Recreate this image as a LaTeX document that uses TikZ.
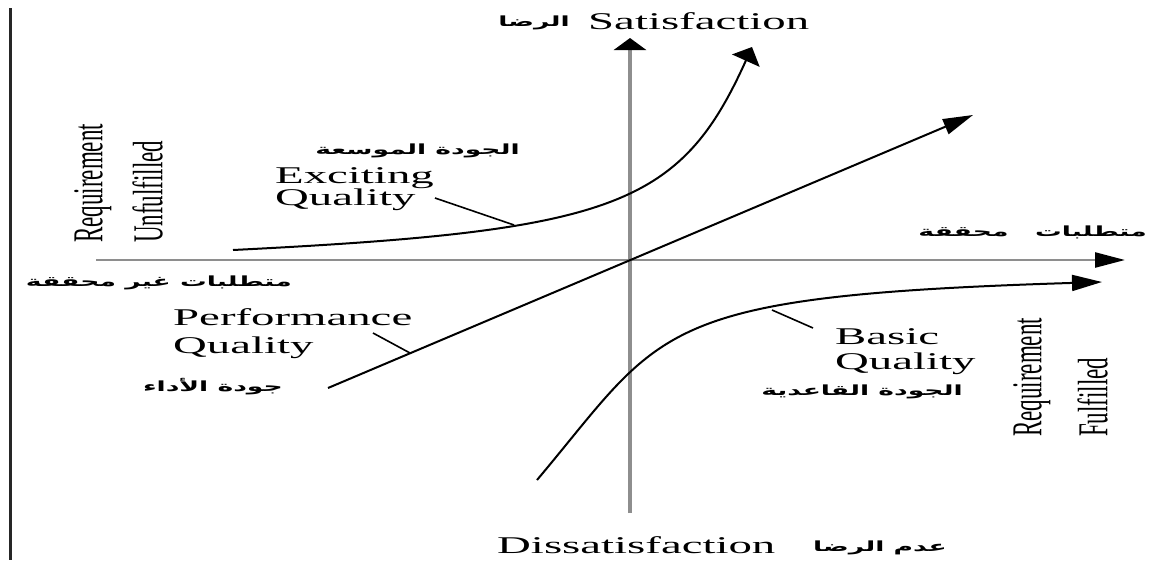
\documentclass[tikz,border=0pt]{standalone}
\usepackage{fontspec}
\usepackage{graphicx}
\setmainfont{Liberation Serif}
\newfontfamily\arfont[Script=Arabic]{DejaVu Sans}
\TeXXeTstate=1
\usetikzlibrary{arrows.meta}
\newcommand\widex[1]{\scalebox{1.95}[1]{#1}}
\newcommand\widerot[1]{\scalebox{1.85}[1]{\rotatebox{90}{#1}}}
\newcommand\widear[1]{\scalebox{1.9}[1]{\beginR #1\endR}}
\definecolor{axisgray}{HTML}{8E8E8E}
\tikzset{
  lbl/.style={inner sep=0pt, align=left},
  artext/.style={inner sep=0pt, font=\arfont\bfseries\fontsize{14}{16}\selectfont},
  curve/.style={line width=2pt, black},
  leader/.style={line width=1.6pt, black},
  axisline/.style={axisgray},
}
\begin{document}
\begin{tikzpicture}[x=1pt,y=-1pt]
\useasboundingbox (0,0) rectangle (1165,560);
\fill[white] (0,0) rectangle (1165,560);

% left border
\coordinate (bt) at (10,8);
\coordinate (bb) at (10,560);
\draw[line width=3pt, black!85] (bt) -- (bb);

% axes
\coordinate (vb) at (630,513);
\coordinate (vt) at (630,38);
\coordinate (hl) at (96,260);
\coordinate (hr) at (1125,260);
\draw[axisline, line width=2.5pt, -{Triangle[length=30pt,width=15pt,color=black]}] (hl) -- (hr);
\draw[axisline, line width=4.5pt, -{Triangle[length=12pt,width=32pt,color=black]}] (vb) -- (vt);

% performance line
\coordinate (ps) at (328,388);
\coordinate (pe) at (973,115);
\draw[curve, -{Triangle[length=30pt,width=16pt]}] (ps) -- (pe);

% exciting curve
\coordinate (es) at (233,250);
\coordinate (ee) at (752,47);
\draw[curve, -{Triangle[length=15pt,width=30pt]}] (es) .. controls (613,231) and (680,207) .. (ee);

% basic curve
\coordinate (bs) at (537,480);
\coordinate (be) at (1102,282);
\draw[curve, -{Triangle[length=30pt,width=16pt]}] (bs) .. controls (665,328) and (650,296) .. (be);

% leaders
\coordinate (el1) at (435,198);
\coordinate (el2) at (514,225);
\draw[leader] (el1) -- (el2);
\coordinate (pl1) at (373,333);
\coordinate (pl2) at (410,353);
\draw[leader] (pl1) -- (pl2);
\coordinate (bl1) at (772,310);
\coordinate (bl2) at (813,328);
\draw[leader] (bl1) -- (bl2);

% English labels
\node[lbl, anchor=base west, font=\fontsize{24}{22}\selectfont] (sat) at (588,29) {\widex{Satisfaction}};
\node[lbl, anchor=base west, font=\fontsize{24}{22}\selectfont] (dis) at (497,553) {\widex{Dissatisfaction}};
\node[lbl, anchor=north west, font=\fontsize{24}{22}\selectfont] (exc) at (275,167) {\widex{Exciting}\\\widex{Quality}};
\node[lbl, anchor=north west, font=\fontsize{24}{28}\selectfont] (perf) at (173,308.6) {\widex{Performance}\\\widex{Quality}};
\node[lbl, anchor=north west, font=\fontsize{24}{25}\selectfont] (basic) at (835,328.6) {\widex{Basic}\\\widex{Quality}};

% rotated labels
\node[inner sep=0pt, anchor=south east, font=\fontsize{23}{32.4}\selectfont] (unf) at (163,243)
  {\widerot{\vbox{\hbox{Requirement}\hbox{Unfulfilled}}}};
\node[inner sep=0pt, anchor=south east, font=\fontsize{23}{35.7}\selectfont] (ful) at (1108,437)
  {\widerot{\vbox{\hbox{Requirement}\hbox{Fulfilled}}}};

% Arabic labels
\node[artext, anchor=east] (a1) at (570,23) {\widear{الرضا}};
\node[artext, anchor=east] (a2) at (520,151) {\widear{الجودة الموسعة}};
\node[artext, anchor=east] (a3) at (1147,232) {\widear{متطلبات\hspace{14pt}محققة}};
\node[artext, anchor=east] (a4) at (292,283) {\widear{متطلبات غير محققة}};
\node[artext, anchor=east] (a5) at (283,387) {\widear{جودة الأداء}};
\node[artext, anchor=east] (a6) at (963,392) {\widear{الجودة القاعدية}};
\node[artext, anchor=east] (a7) at (947,548) {\widear{عدم الرضا}};
\end{tikzpicture}
\end{document}
